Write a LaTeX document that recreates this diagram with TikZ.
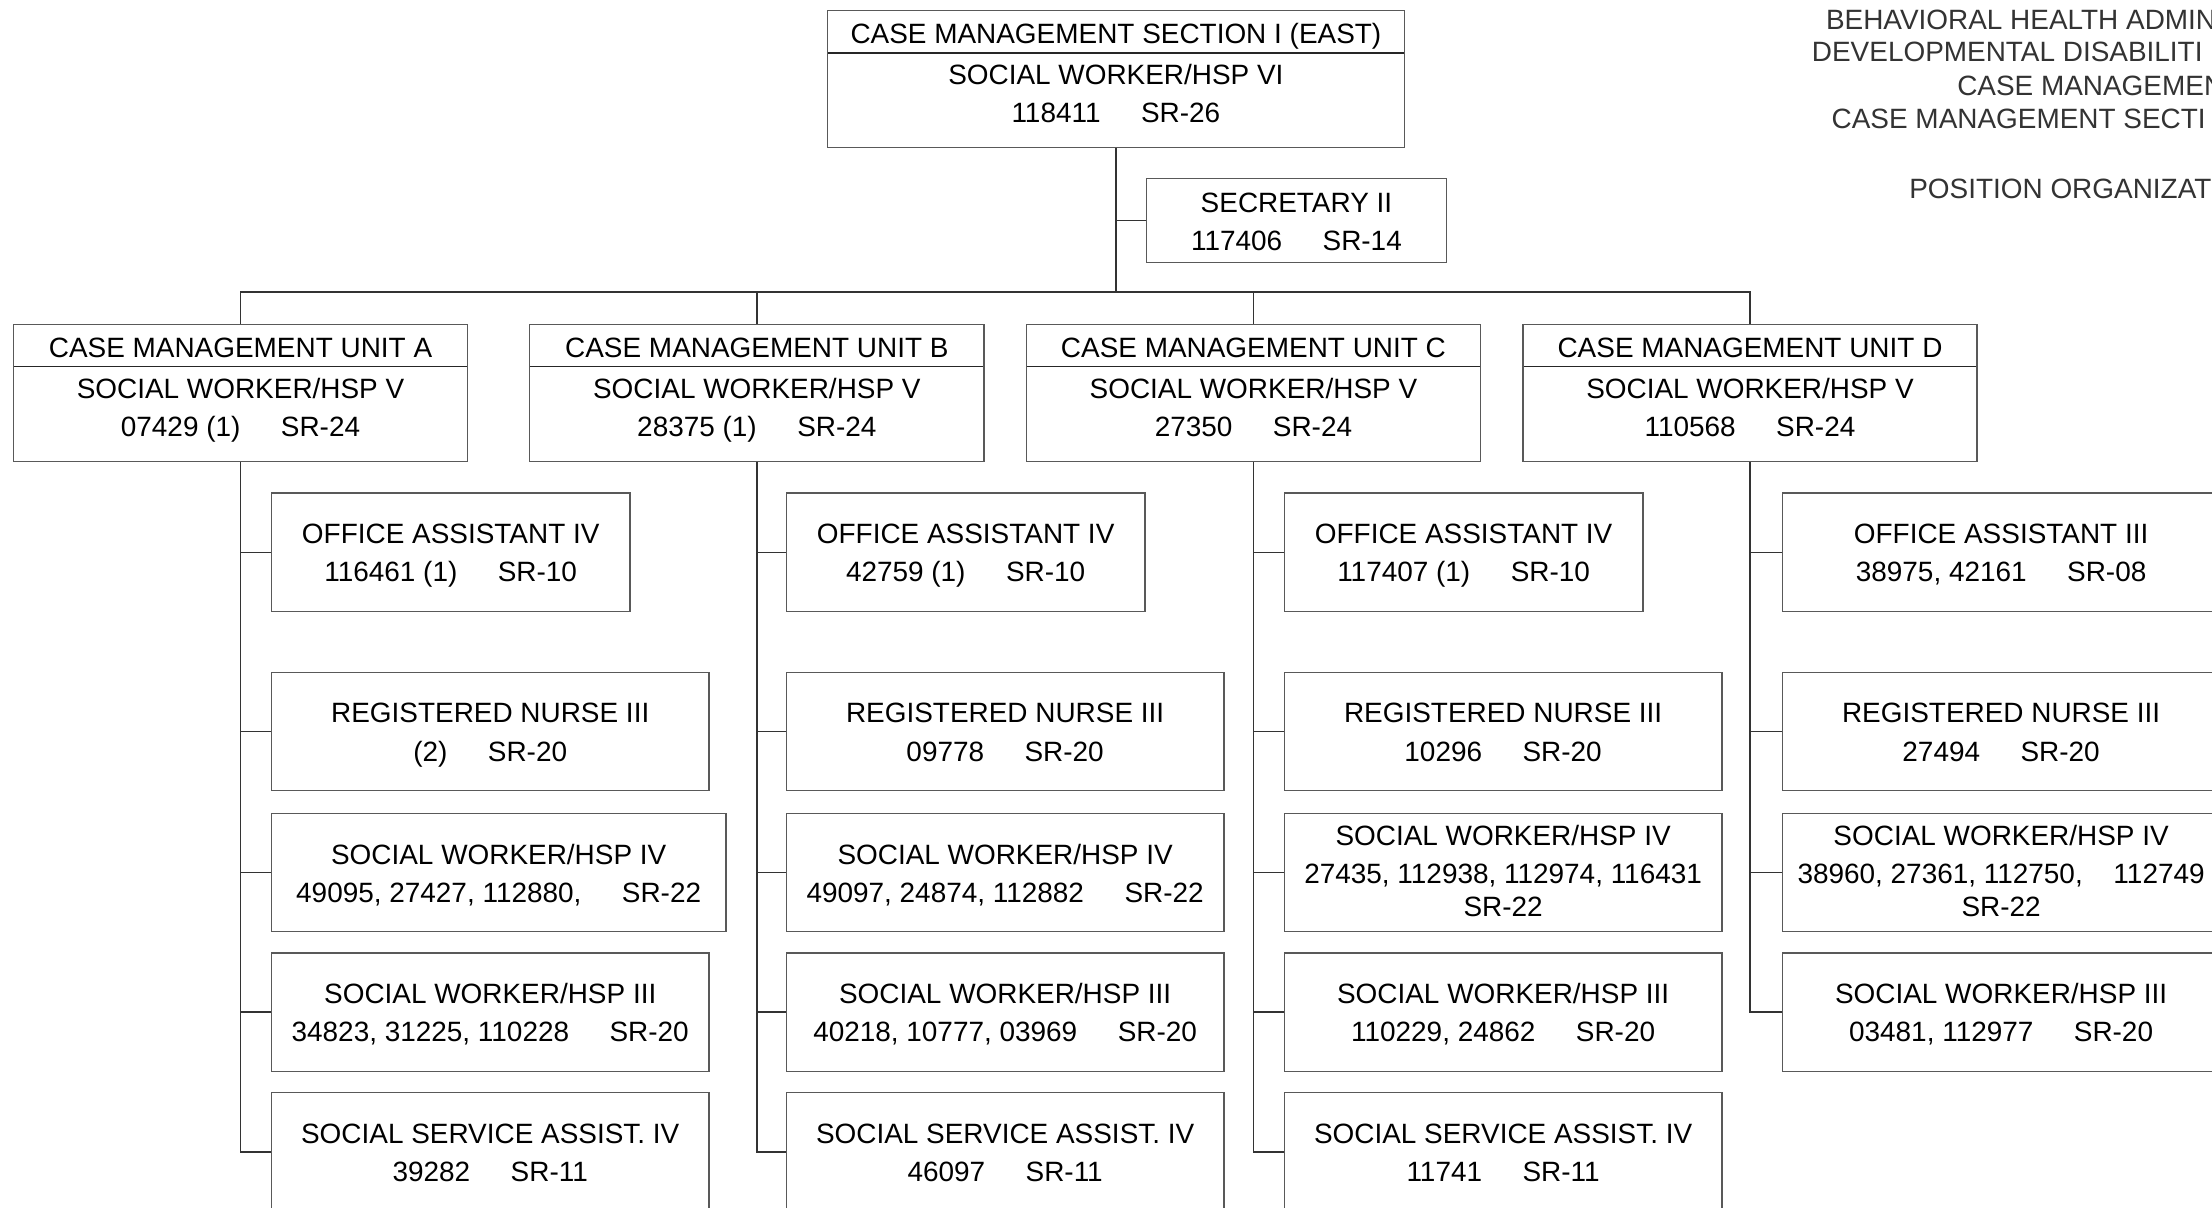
\documentclass[tikz,border=0pt]{standalone}
\usepackage{fontspec}
\setmainfont{Liberation Sans}
\newcommand\chartfont{\fontsize{9.9}{13.5}\selectfont}
\newcommand\colgap{\hspace{1.45em}}
\tikzset{
  box/.style={draw=black!65, line width=0.5pt, inner sep=0pt, anchor=north west,
    align=center, font=\chartfont},
  headbox/.style={box, text height=39.8pt, text depth=8.7pt,
    path picture={\draw[black!85, line width=0.5pt]
      ([yshift=-15pt]path picture bounding box.north west) --
      ([yshift=-15pt]path picture bounding box.north east);}},
  posbox/.style={box, text height=31.5pt, text depth=10.5pt},
  tallbox/.style={box, text height=36.5pt, text depth=5.5pt},
  wire/.style={draw=black!80, line width=0.5pt},
  title/.style={anchor=base west, inner sep=0pt, font=\chartfont, text=black!80}
}
\begin{document}
\begin{tikzpicture}[x=0.5pt, y=-0.5pt]
  \useasboundingbox (0,0) rectangle (1568,856);
  \fill[white] (0,0) rectangle (1568,856);
  \clip (0,0) rectangle (1568,856);

  % heading at the right edge
  \node[title] (t1) at (1294,20.6) {BEHAVIORAL HEALTH ADMIN};
  \node[title] (t2) at (1284,43.8) {DEVELOPMENTAL DISABILITI};
  \node[title] (t3) at (1387,68) {CASE MANAGEMEN};
  \node[title] (t4) at (1298,91.1) {CASE MANAGEMENT SECTI};
  \node[title] (t5) at (1353,141) {POSITION ORGANIZAT};

  % section head and secretary
  \node[headbox, minimum width=204.5pt] (sect) at (586,7)
    {CASE MANAGEMENT SECTION I (EAST)\\[1pt]SOCIAL WORKER/HSP VI\\118411\colgap SR-26};
  \node[box, minimum width=106.5pt, text height=25.5pt, text depth=4.25pt] (sec) at (812,126)
    {SECRETARY II\\117406\colgap SR-14};

  % units
  \node[headbox, minimum width=161pt] (ua) at (9,229.5)
    {CASE MANAGEMENT UNIT A\\[1pt]SOCIAL WORKER/HSP V\\07429 (1)\colgap SR-24};
  \node[headbox, minimum width=161pt] (ub) at (375,229.5)
    {CASE MANAGEMENT UNIT B\\[1pt]SOCIAL WORKER/HSP V\\28375 (1)\colgap SR-24};
  \node[headbox, minimum width=161pt] (uc) at (727,229.5)
    {CASE MANAGEMENT UNIT C\\[1pt]SOCIAL WORKER/HSP V\\27350\colgap SR-24};
  \node[headbox, minimum width=161pt] (ud) at (1079,229.5)
    {CASE MANAGEMENT UNIT D\\[1pt]SOCIAL WORKER/HSP V\\110568\colgap SR-24};

  % unit A
  \node[posbox, minimum width=127pt] (a1) at (192,349) {OFFICE ASSISTANT IV\\116461 (1)\colgap SR-10};
  \node[posbox, minimum width=155pt] (a2) at (192,476) {REGISTERED NURSE III\\(2)\colgap SR-20};
  \node[posbox, minimum width=161pt] (a3) at (192,576) {SOCIAL WORKER/HSP IV\\49095, 27427, 112880,\colgap SR-22};
  \node[posbox, minimum width=155pt] (a4) at (192,675) {SOCIAL WORKER/HSP III\\34823, 31225, 110228\colgap SR-20};
  \node[posbox, minimum width=155pt] (a5) at (192,774) {SOCIAL SERVICE ASSIST. IV\\39282\colgap SR-11};

  % unit B
  \node[posbox, minimum width=127pt] (b1) at (557,349) {OFFICE ASSISTANT IV\\42759 (1)\colgap SR-10};
  \node[posbox, minimum width=155pt] (b2) at (557,476) {REGISTERED NURSE III\\09778\colgap SR-20};
  \node[posbox, minimum width=155pt] (b3) at (557,576) {SOCIAL WORKER/HSP IV\\49097, 24874, 112882\colgap SR-22};
  \node[posbox, minimum width=155pt] (b4) at (557,675) {SOCIAL WORKER/HSP III\\40218, 10777, 03969\colgap SR-20};
  \node[posbox, minimum width=155pt] (b5) at (557,774) {SOCIAL SERVICE ASSIST. IV\\46097\colgap SR-11};

  % unit C
  \node[posbox, minimum width=127pt] (c1) at (910,349) {OFFICE ASSISTANT IV\\117407 (1)\colgap SR-10};
  \node[posbox, minimum width=155pt] (c2) at (910,476) {REGISTERED NURSE III\\10296\colgap SR-20};
  \node[tallbox, minimum width=155pt] (c3) at (910,576) {SOCIAL WORKER/HSP IV\\27435, 112938, 112974, 116431\\[-2pt]SR-22};
  \node[posbox, minimum width=155pt] (c4) at (910,675) {SOCIAL WORKER/HSP III\\110229, 24862\colgap SR-20};
  \node[posbox, minimum width=155pt] (c5) at (910,774) {SOCIAL SERVICE ASSIST. IV\\11741\colgap SR-11};

  % unit D
  \node[posbox, minimum width=155pt] (d1) at (1263,349) {OFFICE ASSISTANT III\\38975, 42161\colgap SR-08};
  \node[posbox, minimum width=155pt] (d2) at (1263,476) {REGISTERED NURSE III\\27494\colgap SR-20};
  \node[tallbox, minimum width=155pt] (d3) at (1263,576) {SOCIAL WORKER/HSP IV\\38960, 27361, 112750,\hspace{1.1em}112749\\[-2pt]SR-22};
  \node[posbox, minimum width=155pt] (d4) at (1263,675) {SOCIAL WORKER/HSP III\\03481, 112977\colgap SR-20};

  % lines
  \coordinate (bus) at (0,207);
  \draw[wire] (sect.south) -- (sect.south |- bus);
  \draw[wire] (sect.south |- sec.west) -- (sec.west);
  \draw[wire] (ua.north) -- (ua.north |- bus) -- (ud.north |- bus) -- (ud.north);
  \foreach \u in {ub,uc}
    \draw[wire] (\u.north |- bus) -- (\u.north);
  \foreach \u/\k/\n in {ua/a/5, ub/b/5, uc/c/5, ud/d/4} {
    \draw[wire] (\u.south) |- (\k\n.west);
    \foreach \i in {1,...,\n}
      \draw[wire] (\u.south |- \k\i.west) -- (\k\i.west);
  }
\end{tikzpicture}
\end{document}
